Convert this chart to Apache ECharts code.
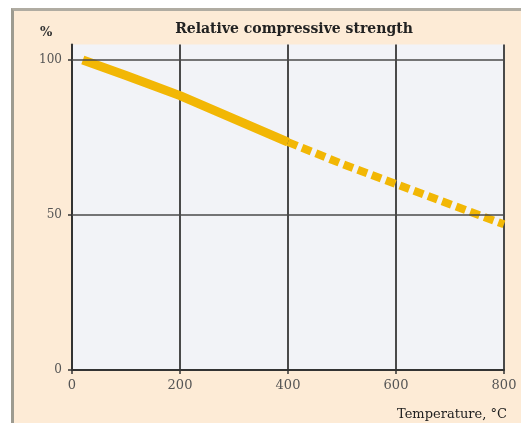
<!DOCTYPE html>
<html><head><meta charset="utf-8">
<script src="https://cdn.jsdelivr.net/npm/echarts@6/dist/echarts.min.js"></script>
<style>
html,body{margin:0;padding:0;background:#fff;width:521px;height:423px;overflow:hidden}
#frame{position:absolute;left:11px;top:8px;width:510px;height:415px;background:#FDEBD6;border-left:3px solid #9d9b90;border-top:3px solid #b0aca2;box-sizing:border-box}
#c{position:absolute;left:0;top:0;width:521px;height:423px}
</style></head>
<body><div id="frame"></div><div id="c"></div>
<script>
const title = 'Relative compressive strength';
const yUnit = '%';
const xName = 'Temperature, °C';
const xTicks = [0, 200, 400, 600, 800];
const yTicks = [0, 50, 100];
const solidTemps = [20, 100, 200, 300, 400];
const solidValues = [100, 95, 88.5, 81, 73.5];
const dashedTemps = [400, 500, 600, 700, 800];
const dashedValues = [73.5, 66.5, 60, 53.5, 47];

const chart = echarts.init(document.getElementById('c'), null, {renderer:'canvas'});
const serif = 'DejaVu Serif';
const gridColor = '#4a4a4a';
chart.setOption({
  backgroundColor: 'transparent',
  animation: false,
  title: [{
    text: title, left: 289, top: 17, textAlign: 'center',
    textStyle: {fontFamily: serif, fontWeight: 'bold', fontSize: 14, color: '#222'}
  },{
    text: yUnit, left: 35, top: 21,
    textStyle: {fontFamily: serif, fontWeight: 'bold', fontSize: 13, color: '#333'}
  },{
    text: xName, left: 392, top: 403,
    textStyle: {fontFamily: serif, fontWeight: 'normal', fontSize: 13, color: '#222'}
  }],
  grid: {left: 72, right: 17, top: 44.5, bottom: 53, show: true, backgroundColor: '#F2F3F7', borderWidth: 0},
  xAxis: {
    type: 'value', min: 0, max: 800, interval: 200,
    axisLine: {show: true, lineStyle: {color: '#333', width: 2}},
    axisTick: {show: true, length: 4, inside: false, lineStyle: {color: '#333', width: 1.5}, customValues: xTicks},
    axisLabel: {color: '#555', fontFamily: serif, fontSize: 13, margin: 9, customValues: xTicks},
    splitLine: {show: true, lineStyle: {color: gridColor, width: 2}}
  },
  yAxis: {
    type: 'value', min: 0, max: 105, interval: 50,
    axisLine: {show: true, lineStyle: {color: '#333', width: 2}},
    axisTick: {show: true, length: 4, lineStyle: {color: '#333', width: 1.5}, customValues: yTicks},
    axisLabel: {color: '#555', fontFamily: serif, fontSize: 12, margin: 10, customValues: yTicks},
    splitLine: {show: false}
  },
  series: [{
    type: 'line', data: solidTemps.map((t,i)=>[t, solidValues[i]]),
    showSymbol: false, smooth: false,
    lineStyle: {color: '#F2B705', width: 9, cap: 'butt'},
    markLine: {
      silent: true, symbol: ['none','none'], label: {show: false},
      lineStyle: {color: gridColor, width: 1.5, type: 'solid'},
      data: yTicks.filter(v=>v>0).map(v=>({yAxis: v}))
    },
    z: 3
  },{
    type: 'line', data: dashedTemps.map((t,i)=>[t, dashedValues[i]]),
    showSymbol: false, smooth: false,
    lineStyle: {color: '#F2B705', width: 8, type: [10, 5], cap: 'butt'},
    z: 3
  }]
});
</script></body></html>
